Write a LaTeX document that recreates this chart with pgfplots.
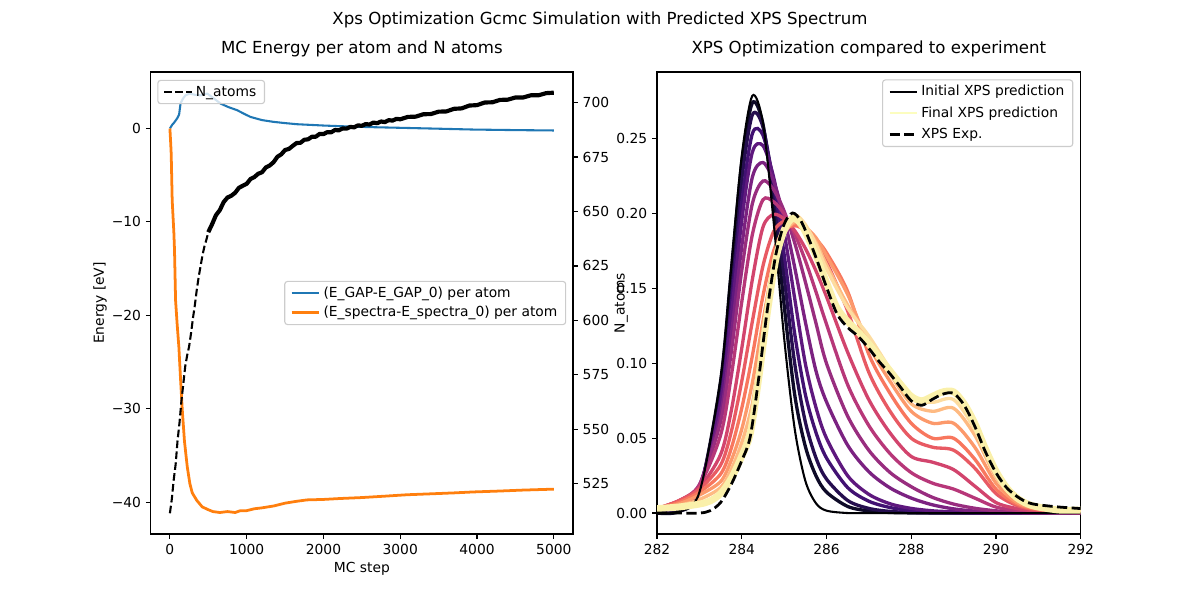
\documentclass[border=0pt]{standalone}
\usepackage{fontspec}
\setmainfont{DejaVu Sans}
\usepackage{pgfplots}
\pgfplotsset{compat=1.18}
\usepackage{pgfplotstable}

\definecolor{mplblue}{HTML}{1F77B4}
\definecolor{mplorange}{HTML}{FF7F0E}
\definecolor{m0}{HTML}{000004}
\definecolor{m1}{HTML}{0E0A28}
\definecolor{m2}{HTML}{250E4F}
\definecolor{m3}{HTML}{411172}
\definecolor{m4}{HTML}{5E187E}
\definecolor{m5}{HTML}{7B2281}
\definecolor{m6}{HTML}{982D7F}
\definecolor{m7}{HTML}{B73779}
\definecolor{m8}{HTML}{D2446D}
\definecolor{m9}{HTML}{E85A63}
\definecolor{m10}{HTML}{F8775E}
\definecolor{m11}{HTML}{FC996B}
\definecolor{m12}{HTML}{FEBA82}
\definecolor{m13}{HTML}{FDDC9F}
\definecolor{m14}{HTML}{FCFDBF}
\definecolor{bandc}{HTML}{FAF0AA}
\definecolor{legframe}{HTML}{CCCCCC}

\pgfplotstableread{
x c0 c1 c2 c3 c4 c5 c6 c7 c8 c9 c10 c11 c12 c13
282 0.0000 0.0000 0.0010 0.0020 0.0030 0.0030 0.0030 0.0030 0.0030 0.003 0.003 0.003 0.003 0.0028
282.5 0.0009 0.0008 0.0030 0.0046 0.0050 0.0060 0.0070 0.0080 0.0080 0.008 0.007 0.006 0.005 0.0038
283 0.0138 0.0140 0.0150 0.0160 0.0180 0.0180 0.0190 0.0185 0.0170 0.016 0.014 0.012 0.009 0.0061
283.5 0.0896 0.0880 0.0830 0.0750 0.0730 0.0660 0.0610 0.0520 0.0390 0.032 0.026 0.021 0.017 0.0136
283.75 0.1634 0.1610 0.1500 0.1380 0.1310 0.1180 0.1070 0.0910 0.0680 0.054 0.043 0.035 0.029 0.0248
284 0.2386 0.2340 0.2230 0.2075 0.1954 0.1780 0.1620 0.1410 0.1100 0.088 0.070 0.056 0.047 0.0410
284.25 0.2788 0.2740 0.2660 0.2535 0.2411 0.2244 0.2067 0.1860 0.1560 0.128 0.105 0.087 0.073 0.0633
284.5 0.2607 0.2600 0.2580 0.2525 0.2455 0.2342 0.2219 0.2093 0.1910 0.165 0.145 0.128 0.117 0.1102
284.75 0.1953 0.2070 0.2170 0.2217 0.2246 0.2220 0.2162 0.2080 0.1995 0.188 0.175 0.166 0.160 0.1593
285 0.1171 0.1390 0.1580 0.1729 0.1877 0.1972 0.2018 0.2000 0.1966 0.195 0.189 0.187 0.186 0.1880
285.25 0.0562 0.0790 0.1000 0.1197 0.1433 0.1641 0.1805 0.1865 0.1887 0.194 0.192 0.194 0.195 0.1991
285.5 0.0216 0.0446 0.0610 0.0794 0.1000 0.1279 0.1546 0.1688 0.1769 0.188 0.189 0.191 0.191 0.1928
285.75 0.0066 0.0250 0.0370 0.0540 0.0707 0.0952 0.1271 0.1480 0.1619 0.180 0.183 0.184 0.181 0.1795
286 0.0016 0.0140 0.0227 0.0368 0.0500 0.0743 0.1000 0.1262 0.1446 0.168 0.174 0.172 0.166 0.1632
286.5 0.0000 0.0044 0.0084 0.0170 0.0249 0.0453 0.0647 0.0857 0.1074 0.135 0.148 0.146 0.139 0.1370
287 0.0000 0.0014 0.0031 0.0079 0.0125 0.0276 0.0419 0.0584 0.0757 0.094 0.106 0.112 0.116 0.1183
287.5 0.0000 0.0004 0.0011 0.0037 0.0062 0.0168 0.0271 0.0397 0.0535 0.068 0.080 0.088 0.093 0.0963
288 0.0000 0.0001 0.0004 0.0017 0.0031 0.0100 0.0176 0.0270 0.0378 0.050 0.060 0.068 0.073 0.0763
288.5 0.0000 0.0000 0.0001 0.0008 0.0015 0.0055 0.0105 0.0200 0.0340 0.044 0.050 0.060 0.068 0.0740
289 0.0000 0.0000 0.0000 0.0003 0.0008 0.0028 0.0060 0.0160 0.0290 0.042 0.050 0.060 0.070 0.0758
289.5 0.0000 0.0000 0.0000 0.0001 0.0003 0.0013 0.0032 0.0100 0.0180 0.030 0.036 0.044 0.052 0.0559
290 0.0000 0.0000 0.0000 0.0000 0.0001 0.0005 0.0015 0.0040 0.0070 0.013 0.016 0.020 0.024 0.0260
290.5 0.0000 0.0000 0.0000 0.0000 0.0000 0.0002 0.0006 0.0018 0.0030 0.005 0.006 0.007 0.009 0.0093
291 0.0000 0.0000 0.0000 0.0000 0.0000 0.0000 0.0002 0.0008 0.0013 0.002 0.0025 0.003 0.0035 0.0037
292 0.0000 0.0000 0.0000 0.0000 0.0000 0.0000 0.0000 0.0002 0.0004 0.0006 0.0008 0.001 0.0015 0.0019
}\spec

\pgfplotstableread{
x y
282 0.003
282.5 0.004
283 0.006
283.25 0.008
283.5 0.013
283.75 0.023
284 0.038
284.2 0.053
284.4 0.090
284.6 0.133
284.8 0.169
285 0.189
285.2 0.197
285.4 0.193
285.6 0.182
285.8 0.169
286 0.154
286.25 0.137
286.5 0.128
286.75 0.121
287 0.113
287.25 0.104
287.5 0.095
287.75 0.086
288 0.078
288.25 0.075
288.5 0.078
288.75 0.081
289 0.081
289.25 0.073
289.5 0.060
289.75 0.043
290 0.028
290.25 0.017
290.5 0.010
290.75 0.006
291 0.004
291.5 0.002
292 0.002
}\finaltab

\pgfplotstableread{
x y
282 0
282.5 0
283 0
283.25 0.0015
283.5 0.007
283.75 0.019
284 0.035
284.2 0.051
284.4 0.090
284.6 0.135
284.8 0.172
285 0.193
285.2 0.2005
285.4 0.195
285.6 0.182
285.8 0.167
286 0.151
286.25 0.133
286.5 0.124
286.75 0.118
287 0.110
287.25 0.101
287.5 0.093
287.75 0.084
288 0.075
288.25 0.072
288.5 0.076
288.75 0.0795
289 0.080
289.25 0.072
289.5 0.058
289.75 0.041
290 0.027
290.25 0.017
290.5 0.011
290.75 0.007
291 0.0055
291.5 0.004
292 0.003
}\exptab

\pgfplotstableread{
x y
0 0
30 0.4
52 0.6
96 1.1
120 1.5
139 2.7
170 3.2
204 3.56
260 3.74
330 3.6
400 3.55
486 3.74
560 3.3
660 2.67
760 2.3
876 1.96
960 1.6
1050 1.24
1200 0.9
1352 0.71
1500 0.58
1656 0.46
2000 0.32
2220 0.25
2600 0.15
3087 0.06
3500 -0.02
3950 -0.11
4500 -0.17
5000 -0.21
}\gap

\pgfplotstableread{
x y
0 0
10 -1.5
17 -2.7
30 -7.7
52 -11.2
60 -13.0
74 -18.4
95 -21
117 -23.4
140 -27
161 -30.1
190 -33.5
226 -36.2
260 -38.0
291 -39.0
350 -39.8
421 -40.5
500 -40.8
560 -41.0
650 -41.1
750 -41.0
850 -41.1
919 -40.9
1000 -40.9
1100 -40.7
1200 -40.6
1352 -40.4
1500 -40.1
1650 -39.9
1786 -39.75
2000 -39.7
2220 -39.6
2500 -39.5
2800 -39.35
3087 -39.2
3400 -39.1
3700 -39.0
3950 -38.9
4300 -38.8
4600 -38.7
5000 -38.6
}\spectra

\pgfplotstableread{
x y
0 511.5
25 518
50 527
75 534
100 545
125 553
150 563
175 571
200 579
225 584
250 588
275 594
300 601
325 607
350 614
375 620
400 625
425 630
450 634
475 637
500 640.5
}\natomsA

\pgfplotstableread{
x y
500 640.5
550 644.2
600 648.3
650 650.6
700 654.3
750 656.4
800 657.2
850 658.6
900 660.9
950 661.8
1000 662.7
1050 664.9
1100 665.8
1150 667.3
1200 668.0
1250 670.2
1300 671.1
1350 672.6
1400 675.1
1450 676.2
1500 678.2
1550 678.7
1600 680.1
1650 681.4
1700 681.5
1750 682.9
1800 683.1
1850 684.3
1900 684.3
1950 685.6
2000 685.5
2050 686.4
2100 686.3
2150 687.4
2200 687.2
2250 688.1
2300 688.0
2350 688.8
2400 688.6
2450 689.5
2500 689.3
2550 690.1
2600 689.9
2650 690.8
2700 690.5
2750 691.3
2800 691.0
2850 691.9
2900 691.7
2950 692.5
3000 692.3
3100 693.4
3200 693.5
3300 694.6
3400 694.7
3500 695.8
3600 695.9
3700 697.1
3800 697.3
3900 698.6
4000 698.8
4100 700.0
4200 700.1
4300 701.2
4400 701.3
4500 702.3
4600 702.3
4700 703.3
4800 703.3
4900 704.3
5000 704.5
}\natomsB

\pgfplotsset{
  myaxis/.style={
    scale only axis, anchor=south west,
    tick align=outside, major tick length=3.5pt,
    every tick/.style={black, line width=0.8pt},
    axis line style={line width=0.8pt},
    tick label style={font=\fontsize{10}{12}\selectfont},
    label style={font=\fontsize{10}{12}\selectfont},
    title style={font=\fontsize{12}{14}\selectfont, yshift=1pt},
    /pgf/number format/assume math mode=true,
    /pgf/number format/1000 sep={},
    legend cell align=left,
    legend style={font=\fontsize{10}{12}\selectfont, draw=legframe, line width=0.8pt,
      rounded corners=2pt, fill=white, fill opacity=0.8, draw opacity=1, text opacity=1,
      inner xsep=4pt, inner ysep=2pt, row sep=2.5pt},
    legend image code/.code={\draw[#1] (0pt,0pt) -- (20pt,0pt);},
  }
}

\begin{document}
\begin{tikzpicture}
\path[use as bounding box] (0,0) rectangle (12in,6in);
\node[font=\fontsize{12}{14}\selectfont] at (6in,5.8in) {Xps Optimization Gcmc Simulation with Predicted XPS Spectrum};

% left axis: energies
\begin{axis}[myaxis,
  at={(1.507in,0.66in)}, width=4.223in, height=4.62in,
  xmin=-250, xmax=5250, ymin=-43.4, ymax=6.05,
  xtick={0,1000,2000,3000,4000,5000},
  ytick={-40,-30,-20,-10,0},
  yticklabels={−40,−30,−20,−10,0},
  tick pos=left, scaled x ticks=false,
  xlabel={MC step}, ylabel={Energy [eV]},
  xlabel style={at={(axis description cs:0.5,-0.076)}, anchor=center},
  ylabel style={at={(axis description cs:-0.12,0.5)}, anchor=center},
  title={MC Energy per atom and N atoms},
  legend style={at={(0.984,0.5)}, anchor=east, row sep=1pt},
]
\addplot[mplblue, line width=1.5pt, line join=round] table {\gap};
\addlegendentry{(E\_GAP-E\_GAP\_0) per atom}
\addplot[mplorange, line width=2pt, line join=round] table {\spectra};
\addlegendentry{(E\_spectra-E\_spectra\_0) per atom}
\end{axis}

% twin axis: N_atoms
\begin{axis}[myaxis,
  at={(1.507in,0.66in)}, width=4.223in, height=4.62in,
  xmin=-250, xmax=5250, ymin=502, ymax=714,
  axis y line*=right, axis x line=none,
  ytick={525,550,575,600,625,650,675,700},
  ylabel={N\_atoms},
  ylabel style={at={(axis description cs:1.114,0.5)}, anchor=center},
  legend style={at={(0.0156,0.983)}, anchor=north west},
]
\addplot[black, line width=1.5pt, dash pattern=on 5.5pt off 2.4pt] table {\natomsA};
\addlegendentry{N\_atoms}
\addplot[black, line width=3pt, line join=round, forget plot] table {\natomsB};
\end{axis}

% right axis: spectra
\begin{axis}[myaxis,
  at={(6.57in,0.66in)}, width=4.237in, height=4.62in,
  xmin=282, xmax=292, ymin=-0.014, ymax=0.2947,
  xtick={282,284,286,288,290,292},
  ytick={0,0.05,0.1,0.15,0.2,0.25},
  yticklabel style={/pgf/number format/.cd, fixed, fixed zerofill, precision=2},
  tick pos=left,
  title={XPS Optimization compared to experiment},
  legend style={at={(0.9825,0.984)}, anchor=north east},
]
\addplot[m1, line width=2.4pt, smooth, forget plot] table[x=x, y=c1] {\spec};
\addplot[m2, line width=2.4pt, smooth, forget plot] table[x=x, y=c2] {\spec};
\addplot[m3, line width=2.4pt, smooth, forget plot] table[x=x, y=c3] {\spec};
\addplot[m4, line width=2.4pt, smooth, forget plot] table[x=x, y=c4] {\spec};
\addplot[m5, line width=2.4pt, smooth, forget plot] table[x=x, y=c5] {\spec};
\addplot[m6, line width=2.4pt, smooth, forget plot] table[x=x, y=c6] {\spec};
\addplot[m7, line width=2.4pt, smooth, forget plot] table[x=x, y=c7] {\spec};
\addplot[m8, line width=2.4pt, smooth, forget plot] table[x=x, y=c8] {\spec};
\addplot[m9, line width=2.4pt, smooth, forget plot] table[x=x, y=c9] {\spec};
\addplot[m10, line width=2.4pt, smooth, forget plot] table[x=x, y=c10] {\spec};
\addplot[m11, line width=2.4pt, smooth, forget plot] table[x=x, y=c11] {\spec};
\addplot[m12, line width=2.4pt, smooth, forget plot] table[x=x, y=c12] {\spec};
\addplot[m13, line width=2.4pt, smooth, forget plot] table[x=x, y=c13] {\spec};
\addplot[m0, line width=1.5pt, smooth] table[x=x, y=c0] {\spec};
\addlegendentry{Initial XPS prediction}
\addlegendimage{m14, line width=1.5pt}
\addlegendentry{Final XPS prediction}
\addplot[bandc, line width=5pt, smooth, line join=round, forget plot] table {\finaltab};
\addplot[black, line width=2pt, dash pattern=on 7.4pt off 3.2pt, smooth] table {\exptab};
\addlegendentry{XPS Exp.}
\end{axis}
\end{tikzpicture}
\end{document}
